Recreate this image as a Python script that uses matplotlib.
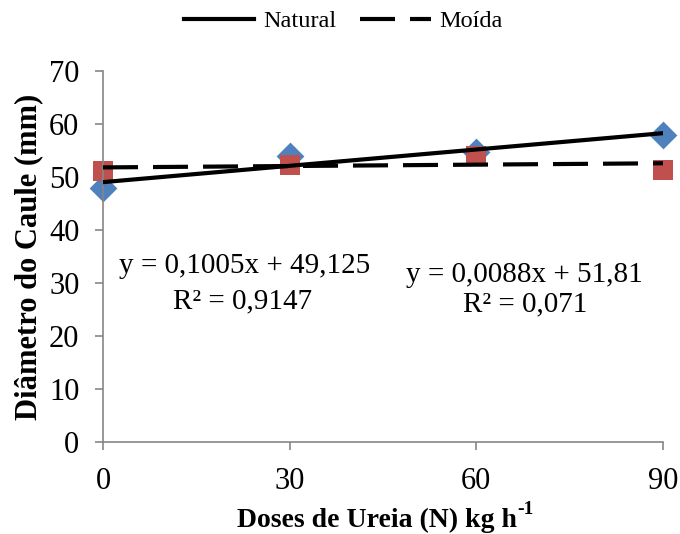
import numpy as np
import matplotlib
matplotlib.use("Agg")
import matplotlib.pyplot as plt

doses = [0, 30, 60, 90]
natural = [48.0, 53.9, 54.7, 58.0]
moida = [51.1, 52.3, 54.0, 51.4]
eq_natural = ["y = 0,1005x + 49,125", "R² = 0,9147"]
eq_moida = ["y = 0,0088x + 51,81", "R² = 0,071"]

plt.rcParams['font.family'] = ['Liberation Serif', 'DejaVu Serif']

fig = plt.figure(figsize=(6.8, 5.34), dpi=100)
ax = fig.add_axes([0.1515, 1 - 442 / 534, 0.8235, (442 - 71) / 534])

x = np.array(doses, dtype=float)
ax.scatter(x, natural, marker='D', s=200, color='#4F81BD', zorder=2, linewidths=0, clip_on=False)
ax.scatter(x, moida, marker='s', s=215, color='#C0504D', zorder=2, linewidths=0, clip_on=False)

xx = np.array([0, 90], dtype=float)
pn = np.polyfit(x, natural, 1)
pm = np.polyfit(x, moida, 1)
ax.plot(xx, np.polyval(pn, xx), color='black', lw=3, label='Natural', zorder=3)
ax.plot(xx, np.polyval(pm, xx), color='black', lw=3, ls=(0, (8.4, 3.6)), label='Moída', zorder=3)

ax.set_xlim(0, 90)
ax.set_ylim(0, 70)
ax.set_xticks(doses)
ax.set_yticks(range(0, 71, 10))
ax.tick_params(labelsize=22, color='#868686', length=6, width=1.2, direction='out')
ax.tick_params(axis='x', pad=12)
ax.tick_params(axis='y', pad=11)
for s in ['top', 'right']:
    ax.spines[s].set_visible(False)
for s in ['left', 'bottom']:
    ax.spines[s].set_color('#868686')
    ax.spines[s].set_linewidth(1.2)

xl = ax.set_xlabel('Doses de Ureia (N) kg h', fontsize=20, fontweight='bold', labelpad=8.5)
ax.set_ylabel('Diâmetro do Caule (mm)', fontsize=22, fontweight='bold', labelpad=4)
ax.xaxis.label.set_x(0.49)
ax.annotate('-1', xy=(1.0, 0.6), xycoords=ax.xaxis.label, fontsize=14,
            fontweight='bold', ha='left', va='bottom')

ax.text(22.8, 33.3, eq_natural[0], fontsize=21, ha='center', va='center')
ax.text(22.5, 26.6, eq_natural[1], fontsize=21, ha='center', va='center')
ax.text(67.7, 31.6, eq_moida[0], fontsize=21, ha='center', va='center')
ax.text(67.8, 26.0, eq_moida[1], fontsize=21, ha='center', va='center')

fig.legend(loc='upper center', bbox_to_anchor=(0.505, 1.022), ncol=2, frameon=False,
           fontsize=17.5, handlelength=2.9, columnspacing=1.0, handletextpad=0.35)

fig.savefig('out.png', dpi=100)
